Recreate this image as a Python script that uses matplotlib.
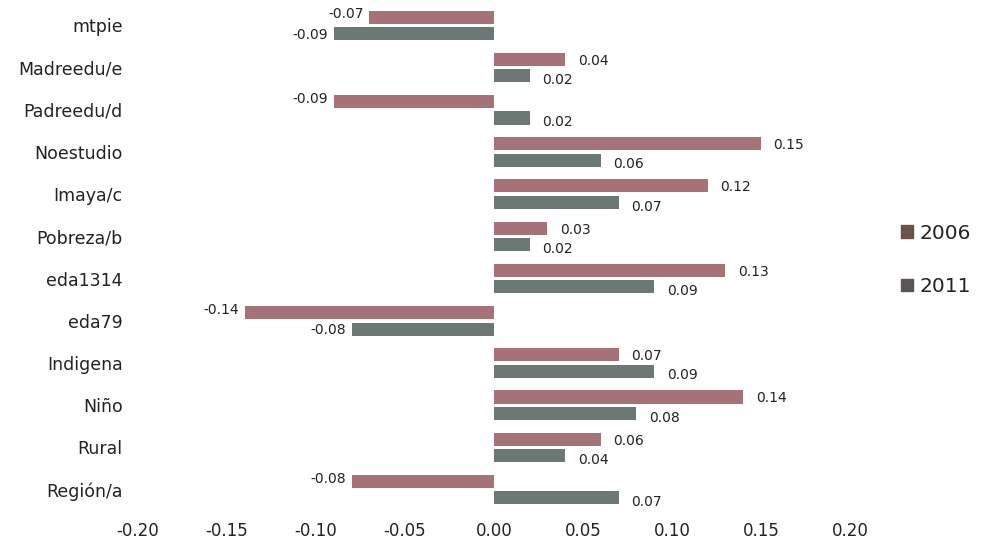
import matplotlib.pyplot as plt
import numpy as np
from matplotlib.patches import Patch

plt.rcParams['font.family'] = ['DejaVu Sans']

# variables, top to bottom
variables = ['mtpie', 'Madreedu/e', 'Padreedu/d', 'Noestudio', 'Imaya/c',
             'Pobreza/b', 'eda1314', 'eda79', 'Indigena', 'Niño', 'Rural',
             'Región/a']
coef_2006 = [-0.07, 0.04, -0.09, 0.15, 0.12, 0.03, 0.13, -0.14, 0.07, 0.14, 0.06, -0.08]
coef_2011 = [-0.09, 0.02, 0.02, 0.06, 0.07, 0.02, 0.09, -0.08, 0.09, 0.08, 0.04, 0.07]
years = ['2006', '2011']
xticks = [-0.20, -0.15, -0.10, -0.05, 0.00, 0.05, 0.10, 0.15, 0.20]

bar_colors = ['#9e666b', '#5f6c67']
legend_colors = ['#6b5249', '#5b5556']
text_color = '#222222'

fig = plt.figure(figsize=(9.82, 5.45), dpi=100)
ax = fig.add_axes([138 / 982, 30 / 545, 712 / 982, 515 / 545])

y = np.arange(len(variables))[::-1]
h = 0.31
off = 0.195

for vals, col, dy in [(coef_2006, bar_colors[0], off), (coef_2011, bar_colors[1], -off)]:
    ax.barh(y + dy, vals, height=h, color=col, edgecolor='none', alpha=0.92)
    for yi, v in zip(y + dy, vals):
        if v >= 0:
            ax.annotate(f'{v:.2f}', (v, yi), xytext=(9, -1 if dy > 0 else -3),
                        textcoords='offset points', ha='left', va='center',
                        fontsize=10, color=text_color)
        else:
            ax.annotate(f'{v:.2f}', (v, yi), xytext=(-4, 2 if dy > 0 else -1),
                        textcoords='offset points', ha='right', va='center',
                        fontsize=10, color=text_color)

ax.set_xlim(-0.2, 0.2)
ax.set_ylim(-0.6, len(variables) - 0.4)
ax.set_yticks(y)
ax.set_yticklabels(variables, fontsize=12.5, color=text_color)
ax.set_xticks(xticks)
ax.set_xticklabels([f'{t:.2f}' for t in xticks], fontsize=12, color=text_color)
ax.tick_params(axis='y', length=0, pad=11)
ax.tick_params(axis='x', length=0, pad=5)
for s in ax.spines.values():
    s.set_visible(False)

handles = [Patch(color=c, label=l) for c, l in zip(legend_colors, years)]
fig.legend(handles=handles, loc='center left', bbox_to_anchor=(883 / 982, 1 - 260 / 545),
           frameon=False, fontsize=14.5, handlelength=0.6, handleheight=0.6,
           handletextpad=0.3, labelspacing=1.7, labelcolor=text_color)

fig.savefig('out.png', dpi=100, facecolor='white')
